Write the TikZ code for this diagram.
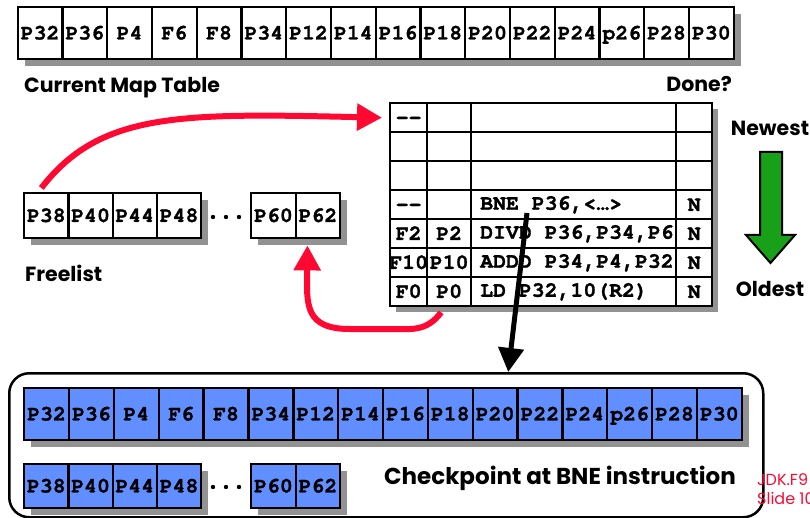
\documentclass[tikz,border=0pt]{standalone}
\usepackage{fontspec}
\usetikzlibrary{arrows.meta}
\newfontfamily\cellfont{texgyrecursor-bold}[Extension=.otf, FakeBold=1.2]
\newfontfamily\tagfont{Poppins}

\definecolor{shadowgray}{RGB}{146,146,146}
\definecolor{ckblue}{RGB}{97,143,255}
\definecolor{hotred}{RGB}{255,8,50}
\definecolor{agegreen}{RGB}{24,160,24}

\begin{document}
\begin{tikzpicture}[x=1pt,y=-1pt,
  cellbox/.style={draw=black, line width=2.4pt, inner sep=0pt, anchor=north west,
    font=\cellfont\fontsize{21.5}{21.5}\selectfont, text height=12.5pt, text depth=0pt},
  celltext/.style={inner sep=0pt, font=\cellfont\fontsize{21.5}{21.5}\selectfont,
    text height=12.5pt, text depth=0pt},
  caption/.style={inner sep=0pt, font=\tagfont\bfseries\fontsize{20.5}{20.5}\selectfont},
  redarrow/.style={draw=hotred, line width=6pt, -{Triangle[length=25pt,width=26pt]}},
  blackarrow/.style={draw=black, line width=5pt, -{Triangle[length=24pt,width=25pt]}},
  dot/.style={fill=black}]
\useasboundingbox (0,0) rectangle (810,518);

% ---------- current map table ----------
\fill[shadowgray] (24.5,14) rectangle (740.5,66);
\foreach \t [count=\i from 0] in {P32,P36,P4,F6,F8,P34,P12,P14,P16,P18,P20,P22,P24,p26,P28,P30}
  \node[cellbox, fill=white, minimum width=44.75pt, minimum height=52pt] (map\i) at (16.5+\i*44.75,6) {\t};
\node[caption, anchor=west] (maplabel) at (24,88) {Current Map Table};

% ---------- reorder buffer ----------
\fill[shadowgray] (396,109) rectangle (718,312);
\foreach \r in {0,...,6}
  \foreach \cx/\cw [count=\c] in {389/37pt,426/44pt,470/205pt,675/36pt}
    \node[cellbox, fill=white, minimum width=\cw, minimum height=29pt] (rob\r-\c) at (\cx,102+\r*29) {};
\node[celltext] (t0a) at (rob0-1) {-{}-};
\node[celltext] (t3a) at (rob3-1) {-{}-};
\node[celltext] (t4a) at (rob4-1) {F2};
\node[celltext] (t5a) at (rob5-1) {F10};
\node[celltext] (t6a) at (rob6-1) {F0};
\node[celltext] (t4b) at (rob4-2) {P2};
\node[celltext] (t5b) at (rob5-2) {P10};
\node[celltext] (t6b) at (rob6-2) {P0};
\node[celltext, anchor=west] (t3c) at (480,203.5) {BNE P36,<…>};
\node[celltext, anchor=west] (t4c) at (480,232.5) {DIVD P36,P34,P6};
\node[celltext, anchor=west] (t5c) at (480,261.5) {ADDD P34,P4,P32};
\node[celltext, anchor=west] (t6c) at (480,290.5) {LD P32,10(R2)};
\node[celltext] (t3d) at (rob3-4) {N};
\node[celltext] (t4d) at (rob4-4) {N};
\node[celltext] (t5d) at (rob5-4) {N};
\node[celltext] (t6d) at (rob6-4) {N};
\node[caption, anchor=east] (donelabel) at (732,84) {Done?};

% ---------- age direction ----------
\node[caption] (newest) at (770,128) {Newest};
\node[caption] (oldest) at (770,289) {Oldest};
\filldraw[fill=agegreen, draw=black, line width=2pt]
  (760,152) -- (782,152) -- (782,235) -- (795,235) -- (770.5,263) -- (746,235) -- (760,235) -- cycle;

% ---------- free list ----------
\fill[shadowgray] (31,200) rectangle (208,245);
\fill[shadowgray] (258,200) rectangle (347,245);
\foreach \t [count=\i from 0] in {P38,P40,P44,P48}
  \node[cellbox, fill=white, minimum width=44.25pt, minimum height=45pt] (fl\i) at (23+\i*44.25,192) {\t};
\foreach \t [count=\i from 0] in {P60,P62}
  \node[cellbox, fill=white, minimum width=44.5pt, minimum height=45pt] (fr\i) at (250+\i*44.5,192) {\t};
\foreach \dx in {213,226,239} \fill[dot] (\dx,217) circle (2.2pt);
\node[caption, anchor=west] (freelabel) at (25,273) {Freelist};

% ---------- checkpoint ----------
\node[draw=black, line width=2.5pt, rounded corners=20pt, minimum width=754pt, minimum height=144pt,
  anchor=north west, inner sep=0pt] (ckpt) at (8,372) {};
\fill[shadowgray] (31,395) rectangle (749,447);
\foreach \t [count=\i from 0] in {P32,P36,P4,F6,F8,P34,P12,P14,P16,P18,P20,P22,P24,p26,P28,P30}
  \node[cellbox, fill=ckblue, minimum width=44.85pt, minimum height=52pt] (cm\i) at (23+\i*44.85,387) {\t};
\fill[shadowgray] (31,471) rectangle (208,515);
\fill[shadowgray] (258,471) rectangle (347,515);
\foreach \t [count=\i from 0] in {P38,P40,P44,P48}
  \node[cellbox, fill=ckblue, minimum width=44.25pt, minimum height=44pt] (cl\i) at (23+\i*44.25,463) {\t};
\foreach \t [count=\i from 0] in {P60,P62}
  \node[cellbox, fill=ckblue, minimum width=44.5pt, minimum height=44pt] (cr\i) at (250+\i*44.5,463) {\t};
\foreach \dx in {213,226,239} \fill[dot] (\dx,487) circle (2.2pt);
\node[caption, font=\tagfont\bfseries\fontsize{23}{23}\selectfont] (ckptlabel) at (560,478) {Checkpoint at BNE instruction};
\node[anchor=north west, inner sep=0pt, align=left, text=hotred,
  font=\tagfont\fontsize{16}{19}\selectfont] (slidetag) at (757,474) {JDK.F9\\Slide 10};

% ---------- connectors ----------
\draw[redarrow] ([xshift=-5pt,yshift=4pt]fl0.north) .. controls (100,112) and (180,113) .. ([xshift=-7pt]rob0-1.west);
\draw[redarrow] ([xshift=-8pt,yshift=-5pt]rob6-2.south) .. controls (426,332) and (412,329) .. (390,329)
  -- (350,329) .. controls (312,329) and (307,312) .. (307,285) -- ([xshift=-10.5pt,yshift=-6pt]fr1.south);
\coordinate (bnepick) at (527,213);
\draw[blackarrow] (bnepick) -- ([xshift=122pt]ckpt.north);
\end{tikzpicture}
\end{document}
